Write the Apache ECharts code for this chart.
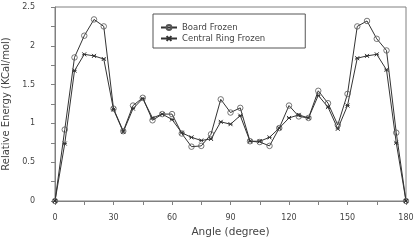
<!DOCTYPE html>
<html>
<head>
<meta charset="utf-8">
<script src="https://cdn.jsdelivr.net/npm/echarts@6/dist/echarts.min.js"></script>
<style>html,body{margin:0;padding:0;background:#fff}#c{width:415px;height:241px}</style>
</head>
<body>
<div id="c"></div>
<script>
const angles = [0,5,10,15,20,25,30,35,40,45,50,55,60,65,70,75,80,85,90,95,100,105,110,115,120,125,130,135,140,145,150,155,160,165,170,175,180];
const boardFrozen = [0,0.92,1.85,2.13,2.34,2.25,1.19,0.90,1.23,1.33,1.04,1.12,1.12,0.87,0.70,0.71,0.86,1.31,1.14,1.20,0.77,0.76,0.71,0.94,1.23,1.09,1.07,1.42,1.26,0.98,1.38,2.25,2.32,2.09,1.94,0.88,0];
const centralRingFrozen = [0,0.74,1.68,1.89,1.87,1.83,1.18,0.89,1.19,1.32,1.07,1.12,1.05,0.88,0.82,0.78,0.80,1.02,0.99,1.10,0.77,0.77,0.82,0.94,1.07,1.11,1.07,1.36,1.21,0.93,1.23,1.84,1.87,1.89,1.69,0.75,0];
const xTicks = {min:0, max:180, interval:30};
const yTicks = {min:0, max:2.5, interval:0.5};
const seriesNames = ['Board Frozen','Central Ring Frozen'];

const chart = echarts.init(document.getElementById('c'));
const axisCol = '#808080';
const textCol = '#444';
const crossPath = 'path://M0,0L10,10M10,0L0,10M0,5L10,5';
chart.setOption({
  animation:false,
  grid:{left:55,right:9,top:7,bottom:40,show:true,borderColor:axisCol,borderWidth:1,containLabel:false,outerBoundsMode:'none'},
  legend:{
    left:153, top:14, orient:'vertical',
    borderColor:'#555', borderWidth:1, padding:[9,40,5,7],
    itemGap:2, itemWidth:16, itemHeight:6,
    textStyle:{fontSize:8.5,color:textCol,fontFamily:'DejaVu Sans'},
    data:seriesNames
  },
  xAxis:{
    type:'value', min:xTicks.min, max:xTicks.max, interval:xTicks.interval,
    name:'Angle (degree)', nameLocation:'middle', nameGap:24,
    nameTextStyle:{fontSize:10.5,color:textCol,fontFamily:'DejaVu Sans'},
    axisLine:{lineStyle:{color:axisCol}},
    axisTick:{show:true,length:4,lineStyle:{color:axisCol}},
    minorTick:{show:true,splitNumber:2,length:4,lineStyle:{color:axisCol}},
    splitLine:{show:false},
    axisLabel:{fontSize:8,color:textCol,margin:13,fontFamily:'DejaVu Sans'}
  },
  yAxis:{
    type:'value', min:yTicks.min, max:yTicks.max, interval:yTicks.interval,
    name:'Relative Energy (KCal/mol)', nameLocation:'middle', nameGap:40,
    nameTextStyle:{fontSize:10,color:textCol,fontFamily:'DejaVu Sans'},
    axisLine:{show:true,lineStyle:{color:axisCol}},
    axisTick:{show:true,length:4,lineStyle:{color:axisCol}},
    minorTick:{show:true,splitNumber:2,length:4,lineStyle:{color:axisCol}},
    splitLine:{show:false},
    axisLabel:{fontSize:8,color:textCol,margin:20,fontFamily:'DejaVu Sans'}
  },
  series:[
    {
      name:seriesNames[0], type:'line',
      data:angles.map((a,i)=>[a,boardFrozen[i]]),
      symbol:'circle', symbolSize:5.5, showAllSymbol:true,
      lineStyle:{color:'#333',width:1},
      itemStyle:{color:'rgba(255,255,255,0)',borderColor:'#555',borderWidth:0.8}
    },
    {
      name:seriesNames[1], type:'line',
      data:angles.map((a,i)=>[a,centralRingFrozen[i]]),
      symbol:crossPath, symbolSize:4, showAllSymbol:true,
      lineStyle:{color:'#333',width:1},
      itemStyle:{color:'#333',borderColor:'#333',borderWidth:1}
    }
  ]
});
</script>
</body>
</html>
